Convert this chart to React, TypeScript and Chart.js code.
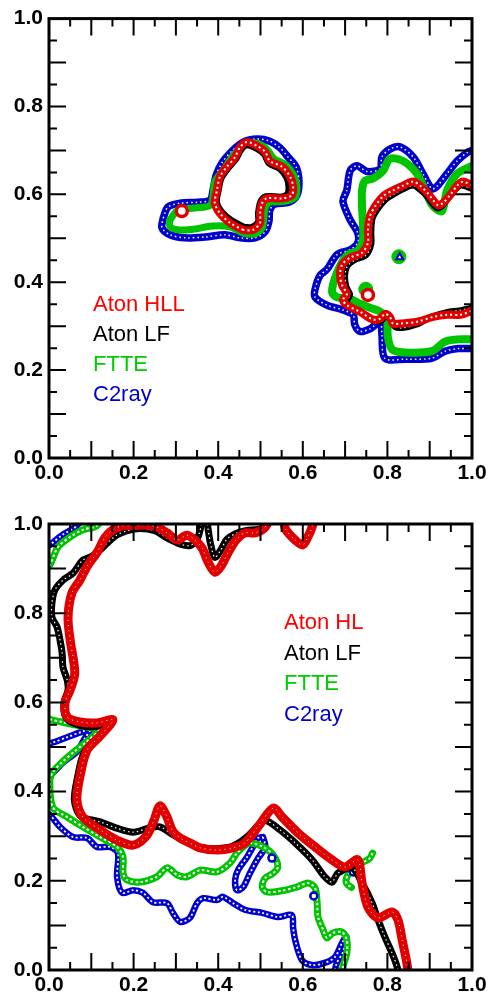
import React, { useEffect, useRef } from "react";
import { Chart, registerables } from "chart.js";
Chart.register(...registerables);

type P = [number, number];

// ---------- TOP PANEL ----------
const topRedIsland: P[] = [[0.459,0.519],[0.428,0.535],[0.404,0.557],[0.392,0.580],[0.397,0.609],[0.404,0.640],[0.421,0.663],[0.440,0.685],[0.452,0.708],[0.468,0.719],[0.492,0.710],[0.511,0.697],[0.522,0.676],[0.551,0.663],[0.570,0.640],[0.577,0.618],[0.574,0.598],[0.553,0.591],[0.515,0.591],[0.504,0.580],[0.499,0.557],[0.499,0.535],[0.482,0.519],[0.459,0.519]];
const topRedRight: P[] = [[1.0,0.620],[0.979,0.629],[0.965,0.620],[0.948,0.598],[0.931,0.580],[0.920,0.575],[0.908,0.587],[0.896,0.602],[0.877,0.620],[0.861,0.629],[0.837,0.620],[0.813,0.609],[0.790,0.596],[0.771,0.573],[0.759,0.551],[0.754,0.519],[0.754,0.490],[0.740,0.467],[0.712,0.456],[0.693,0.440],[0.688,0.416],[0.693,0.393],[0.704,0.373],[0.695,0.360],[0.704,0.348],[0.735,0.333],[0.766,0.315],[0.783,0.317],[0.794,0.328],[0.806,0.321],[0.813,0.306],[0.830,0.306],[0.870,0.310],[0.908,0.321],[0.941,0.326],[0.972,0.326],[1.0,0.335]];
const topRedDots: P[] = [[0.314,0.562],[0.754,0.371]];

const topBlackIsland: P[] = [[0.462,0.526],[0.432,0.541],[0.408,0.561],[0.397,0.582],[0.401,0.608],[0.408,0.637],[0.424,0.659],[0.443,0.681],[0.455,0.702],[0.468,0.712],[0.490,0.704],[0.508,0.691],[0.520,0.670],[0.546,0.657],[0.562,0.636],[0.566,0.617],[0.564,0.602],[0.550,0.595],[0.513,0.596],[0.500,0.584],[0.494,0.557],[0.494,0.537],[0.480,0.526],[0.462,0.526]];
const topBlackRight: P[] = [[1.0,0.612],[0.975,0.620],[0.962,0.612],[0.945,0.592],[0.930,0.574],[0.918,0.568],[0.905,0.580],[0.893,0.596],[0.875,0.612],[0.860,0.620],[0.838,0.612],[0.815,0.600],[0.795,0.587],[0.777,0.566],[0.765,0.545],[0.762,0.515],[0.762,0.487],[0.750,0.462],[0.722,0.450],[0.705,0.436],[0.700,0.415],[0.703,0.390],[0.712,0.372],[0.705,0.358],[0.710,0.346],[0.740,0.330],[0.770,0.312],[0.785,0.312],[0.796,0.322],[0.808,0.314],[0.818,0.298],[0.835,0.296],[0.870,0.304],[0.905,0.322],[0.940,0.332],[0.970,0.336],[1.0,0.342]];

const topGreenIsland: P[] = [[0.286,0.542],[0.305,0.564],[0.345,0.569],[0.381,0.575],[0.388,0.598],[0.392,0.629],[0.414,0.658],[0.435,0.688],[0.459,0.712],[0.489,0.717],[0.515,0.703],[0.532,0.681],[0.560,0.667],[0.579,0.643],[0.586,0.618],[0.582,0.593],[0.558,0.584],[0.522,0.582],[0.511,0.569],[0.508,0.546],[0.504,0.524],[0.487,0.510],[0.459,0.512],[0.428,0.526],[0.385,0.528],[0.345,0.521],[0.310,0.519],[0.286,0.526],[0.286,0.542]];
const topGreenRight: P[] = [[1.0,0.665],[0.965,0.647],[0.941,0.609],[0.929,0.562],[0.908,0.573],[0.894,0.598],[0.870,0.647],[0.837,0.676],[0.806,0.681],[0.790,0.654],[0.766,0.636],[0.747,0.631],[0.740,0.609],[0.740,0.573],[0.742,0.535],[0.742,0.497],[0.730,0.472],[0.704,0.461],[0.681,0.422],[0.669,0.378],[0.681,0.366],[0.712,0.362],[0.735,0.351],[0.759,0.342],[0.783,0.333],[0.799,0.315],[0.801,0.276],[0.811,0.247],[0.842,0.240],[0.905,0.243],[0.936,0.265],[0.967,0.270],[1.0,0.270]];
const topGreenBlobs: P[] = [[0.749,0.384],[0.827,0.458]];

const topBlueIsland: P[] = [[0.270,0.546],[0.281,0.571],[0.310,0.580],[0.352,0.582],[0.381,0.587],[0.388,0.611],[0.395,0.643],[0.409,0.672],[0.433,0.699],[0.459,0.719],[0.492,0.726],[0.522,0.721],[0.546,0.706],[0.565,0.685],[0.584,0.663],[0.591,0.629],[0.586,0.598],[0.567,0.582],[0.534,0.578],[0.522,0.564],[0.520,0.539],[0.511,0.515],[0.487,0.501],[0.452,0.501],[0.416,0.508],[0.369,0.503],[0.322,0.501],[0.286,0.508],[0.267,0.524],[0.270,0.546]];
const topBlueRight: P[] = [[1.0,0.700],[0.991,0.697],[0.965,0.676],[0.941,0.647],[0.917,0.618],[0.905,0.613],[0.884,0.647],[0.861,0.685],[0.830,0.708],[0.806,0.703],[0.787,0.685],[0.783,0.658],[0.752,0.652],[0.728,0.665],[0.712,0.654],[0.704,0.609],[0.695,0.584],[0.712,0.542],[0.730,0.512],[0.730,0.490],[0.712,0.474],[0.681,0.463],[0.657,0.429],[0.641,0.416],[0.629,0.384],[0.629,0.366],[0.657,0.348],[0.695,0.337],[0.719,0.326],[0.723,0.303],[0.735,0.288],[0.759,0.294],[0.783,0.310],[0.787,0.281],[0.794,0.227],[0.842,0.225],[0.905,0.227],[0.936,0.243],[0.967,0.249],[1.0,0.249]];
const topBlueDots: P[] = [[0.829,0.457]];

// ---------- BOTTOM PANEL ----------
const botRedMain: P[] = [[0.63,1.03],[0.622,0.993],[0.612,0.971],[0.600,0.953],[0.582,0.964],[0.560,0.987],[0.548,1.02],[0.52,1.02],[0.511,0.993],[0.487,0.980],[0.463,0.980],[0.442,0.964],[0.423,0.935],[0.407,0.906],[0.392,0.892],[0.376,0.915],[0.362,0.946],[0.345,0.964],[0.326,0.975],[0.303,0.964],[0.279,0.980],[0.255,0.993],[0.227,0.998],[0.199,0.996],[0.173,0.996],[0.151,0.987],[0.132,0.969],[0.113,0.935],[0.092,0.908],[0.073,0.874],[0.054,0.845],[0.045,0.791],[0.050,0.740],[0.061,0.666],[0.050,0.628],[0.038,0.599],[0.043,0.567],[0.073,0.556],[0.113,0.554],[0.151,0.561],[0.121,0.525],[0.090,0.493],[0.073,0.433],[0.066,0.381],[0.080,0.343],[0.121,0.314],[0.161,0.291],[0.199,0.280],[0.230,0.300],[0.248,0.335],[0.262,0.368],[0.278,0.345],[0.292,0.312],[0.310,0.296],[0.333,0.285],[0.357,0.274],[0.397,0.269],[0.435,0.274],[0.463,0.285],[0.494,0.321],[0.530,0.363],[0.551,0.343],[0.589,0.307],[0.629,0.276],[0.669,0.247],[0.700,0.231],[0.730,0.247],[0.740,0.195],[0.754,0.141],[0.778,0.117],[0.811,0.130],[0.825,0.112],[0.835,0.067],[0.846,0.016],[0.851,-0.02]];

const botBlackTop: P[] = [[0.372,1.02],[0.376,0.99],[0.382,0.955],[0.392,0.925],[0.405,0.94],[0.42,0.965],[0.44,0.978],[0.465,0.985],[0.495,0.988],[0.515,0.995],[0.525,1.02]];
const botBlackMain: P[] = [[0.365,1.02],[0.352,0.97],[0.335,0.952],[0.31,0.955],[0.28,0.968],[0.25,0.985],[0.215,0.99],[0.185,0.985],[0.16,0.975],[0.135,0.955],[0.121,0.942],[0.100,0.927],[0.080,0.919],[0.057,0.890],[0.033,0.874],[0.014,0.852],[0.007,0.823],[0.007,0.791],[0.019,0.769],[0.026,0.740],[0.031,0.711],[0.033,0.679],[0.043,0.650],[0.045,0.628],[0.035,0.597],[0.042,0.563],[0.075,0.548],[0.112,0.546],[0.145,0.553],[0.115,0.52],[0.083,0.488],[0.067,0.43],[0.060,0.38],[0.075,0.345],[0.121,0.332],[0.16,0.318],[0.199,0.309],[0.235,0.318],[0.262,0.321],[0.29,0.305],[0.32,0.29],[0.357,0.275],[0.397,0.272],[0.435,0.278],[0.47,0.3],[0.495,0.325],[0.511,0.336],[0.545,0.315],[0.582,0.285],[0.622,0.247],[0.652,0.209],[0.669,0.197],[0.683,0.217],[0.716,0.229],[0.740,0.195],[0.764,0.150],[0.778,0.112],[0.794,0.074],[0.811,0.038],[0.823,0.007],[0.828,-0.02]];

const botGreenCorner: P[] = [[-0.01,0.9],[0.002,0.908],[0.021,0.948],[0.050,0.971],[0.080,0.987],[0.113,0.996],[0.13,1.02]];
const botGreenMain: P[] = [[-0.01,0.565],[0.03,0.556],[0.07,0.548],[0.10,0.543],[0.118,0.538],[0.09,0.513],[0.06,0.49],[0.03,0.465],[0.01,0.445],[0.002,0.426],[0.009,0.365],[0.043,0.343],[0.080,0.321],[0.121,0.298],[0.161,0.276],[0.175,0.253],[0.175,0.217],[0.184,0.202],[0.215,0.197],[0.255,0.209],[0.279,0.229],[0.303,0.213],[0.326,0.209],[0.357,0.224],[0.397,0.220],[0.428,0.240],[0.444,0.262],[0.459,0.276],[0.475,0.285],[0.506,0.276],[0.530,0.258],[0.541,0.231],[0.530,0.217],[0.511,0.206],[0.504,0.186],[0.515,0.175],[0.546,0.177],[0.586,0.186],[0.612,0.195],[0.629,0.184],[0.634,0.150],[0.636,0.119],[0.648,0.090],[0.657,0.072],[0.671,0.083],[0.693,0.085],[0.704,0.067],[0.704,0.038],[0.695,0.007],[0.69,-0.02]];
const botGreenHook: P[] = [[0.765,0.262],[0.758,0.25],[0.745,0.243],[0.732,0.235],[0.718,0.225],[0.705,0.21],[0.703,0.195],[0.715,0.185]];

const botBlueCorner: P[] = [[-0.01,0.945],[0.002,0.953],[0.031,0.975],[0.066,0.996],[0.08,1.02]];
const botBlueLeft: P[] = [[-0.01,0.505],[0.009,0.51],[0.043,0.522],[0.08,0.535],[0.098,0.54],[0.085,0.52],[0.066,0.49],[0.033,0.465],[0.009,0.442],[-0.01,0.43]];
const botBlueMain: P[] = [[-0.01,0.352],[0.002,0.348],[0.026,0.321],[0.057,0.298],[0.090,0.296],[0.113,0.276],[0.144,0.276],[0.163,0.262],[0.161,0.209],[0.173,0.173],[0.199,0.179],[0.222,0.173],[0.246,0.152],[0.279,0.150],[0.293,0.128],[0.310,0.108],[0.333,0.117],[0.350,0.150],[0.364,0.161],[0.397,0.157],[0.411,0.164],[0.435,0.150],[0.463,0.135],[0.504,0.128],[0.541,0.119],[0.574,0.123],[0.577,0.096],[0.582,0.067],[0.598,0.022],[0.622,0.011],[0.652,0.016],[0.676,0.029],[0.693,0.061],[0.703,0.075],[0.695,0.04],[0.68,0.015],[0.672,-0.02]];
const botBlueLoop: P[] = [[0.506,0.298],[0.511,0.276],[0.492,0.247],[0.475,0.217],[0.459,0.186],[0.444,0.179],[0.440,0.202],[0.447,0.224],[0.468,0.253],[0.482,0.276],[0.494,0.296],[0.506,0.298]];
const botBlueDots: P[] = [[0.527,0.251],[0.626,0.166],[0.719,0.22]];

// ---------- AXES / LEGEND ----------
const labelTicks = [0, 0.2, 0.4, 0.6, 0.8, 1.0];
const longTicks = [0.1, 0.2, 0.3, 0.4, 0.5, 0.6, 0.7, 0.8, 0.9];
const shortTicks = [0.05, 0.15, 0.25, 0.35, 0.45, 0.55, 0.65, 0.75, 0.85, 0.95];
const topLegend = ["Aton HLL", "Aton LF", "FTTE", "C2ray"];
const bottomLegend = ["Aton HL", "Aton LF", "FTTE", "C2ray"];

const RED = "#e00000";
const BLACK = "#000000";
const GREEN = "#00c400";
const BLUE = "#0000cc";
const legendColors = ["#ff0000", "#000000", "#00cc00", "#0000cc"];
const FONT = '"Liberation Sans", Arial, Helvetica, sans-serif';

const pts = (a: P[]) => a.map(([x, y]) => ({ x, y }));

function band(a: P[], color: string, width: number, dash: number[] | null, dashWidth = 1.5): any[] {
  const out: any[] = [];
  if (dash) {
    out.push({
      data: pts(a), showLine: true, borderColor: "#ffffff", borderWidth: dashWidth,
      borderDash: dash, pointRadius: 0, tension: 0.3, fill: false,
    });
  }
  out.push({
    data: pts(a), showLine: true, borderColor: color, borderWidth: width,
    pointRadius: 0, tension: 0.3, fill: false, borderJoinStyle: "round", borderCapStyle: "round",
  });
  return out;
}

function dots(a: P[], color: string, radius: number, style: string, bw: number, fillColor: string): any {
  return {
    data: pts(a), showLine: false, pointStyle: style, pointRadius: radius,
    pointBorderColor: color, pointBackgroundColor: fillColor, pointBorderWidth: bw,
  };
}

const topDatasets = [
  dots(topRedDots, RED, 5.5, "circle", 3.5, "#ffffff"),
  ...band(topRedIsland, RED, 8, [2, 3], 2),
  ...band(topRedRight, RED, 8, [2, 3], 2),
  ...band(topBlackIsland, BLACK, 6, null),
  ...band(topBlackRight, BLACK, 6, [1.5, 3], 1.2),
  dots(topBlueDots, BLUE, 4, "triangle", 2, "#ffffff"),
  dots(topGreenBlobs, GREEN, 7, "circle", 1, GREEN),
  ...band(topGreenIsland, GREEN, 7, null),
  ...band(topGreenRight, GREEN, 8, null),
  ...band(topBlueIsland, BLUE, 7.5, [1.5, 3], 1.5),
  ...band(topBlueRight, BLUE, 7.5, [1.5, 3], 1.5),
];

const bottomDatasets = [
  ...band(botRedMain, RED, 9, [1, 4], 1),
  ...band(botBlackTop, BLACK, 7, [1.5, 3], 1.2),
  ...band(botBlackMain, BLACK, 7, [1.5, 3], 1.2),
  dots(botBlueDots, BLUE, 3.5, "circle", 2.5, "#ffffff"),
  ...band(botGreenCorner, GREEN, 7, [2.5, 2.5], 2),
  ...band(botGreenMain, GREEN, 7, [2.5, 2.5], 2),
  ...band(botGreenHook, GREEN, 7, [2.5, 2.5], 2),
  ...band(botBlueCorner, BLUE, 6.5, [2, 2.5], 1.8),
  ...band(botBlueLeft, BLUE, 6.5, [2, 2.5], 1.8),
  ...band(botBlueMain, BLUE, 6.5, [2, 2.5], 1.8),
  ...band(botBlueLoop, BLUE, 6.5, [2, 2.5], 1.8),
];

const framePlugin = {
  id: "frameTicks",
  afterDatasetsDraw(chart: any) {
    const { ctx, chartArea, scales } = chart;
    const { left, right, top, bottom } = chartArea;
    const xs = scales.x, ys = scales.y;
    ctx.save();
    ctx.strokeStyle = "#000";
    ctx.lineWidth = 2;
    const draw = (vals: number[], len: number) => {
      for (const v of vals) {
        const px = xs.getPixelForValue(v);
        const py = ys.getPixelForValue(v);
        ctx.beginPath();
        ctx.moveTo(px, bottom); ctx.lineTo(px, bottom - len);
        ctx.moveTo(px, top); ctx.lineTo(px, top + len);
        ctx.moveTo(left, py); ctx.lineTo(left + len, py);
        ctx.moveTo(right, py); ctx.lineTo(right - len, py);
        ctx.stroke();
      }
    };
    draw(longTicks, 17);
    draw(shortTicks, 8);
    ctx.lineWidth = 3;
    ctx.strokeRect(left, top, right - left, bottom - top);
    ctx.restore();
  },
};

function makeOptions(padTop: number, padBottom: number): any {
  const tickFont = { family: FONT, size: 21, weight: "bold" as const };
  return {
    animation: false,
    responsive: false,
    devicePixelRatio: 1,
    layout: { padding: { left: 0, right: 18, top: padTop, bottom: padBottom } },
    plugins: { legend: { display: false }, tooltip: { enabled: false } },
    scales: {
      x: {
        type: "linear", min: 0, max: 1, position: "bottom",
        grid: { display: false, drawTicks: false }, border: { display: false },
        afterBuildTicks: (s: any) => { s.ticks = labelTicks.map((v) => ({ value: v })); },
        ticks: { font: tickFont, color: "#000", padding: 3, maxRotation: 0, autoSkip: false,
          callback: (v: any) => Number(v).toFixed(1) },
        afterFit: (s: any) => { s.height = 30; },
      },
      y: {
        type: "linear", min: 0, max: 1, position: "left",
        grid: { display: false, drawTicks: false }, border: { display: false },
        afterBuildTicks: (s: any) => { s.ticks = labelTicks.map((v) => ({ value: v })); },
        ticks: { font: tickFont, color: "#000", padding: 6, autoSkip: false,
          callback: (v: any) => Number(v).toFixed(1) },
        afterFit: (s: any) => { s.width = 49; },
      },
    },
  };
}

function Panel({ datasets, top, padTop, padBottom }: { datasets: any[]; top: number; padTop: number; padBottom: number }) {
  const ref = useRef<HTMLCanvasElement>(null);
  useEffect(() => {
    const chart = new Chart(ref.current as HTMLCanvasElement, {
      type: "scatter",
      data: { datasets },
      options: makeOptions(padTop, padBottom),
      plugins: [framePlugin],
    } as any);
    return () => chart.destroy();
  }, []);
  return (
    <canvas ref={ref} width={490} height={500}
      style={{ position: "absolute", left: 0, top, width: 490, height: 500 }} />
  );
}

function Legend({ labels, left, top, lineHeight }: { labels: string[]; left: number; top: number; lineHeight: number }) {
  return (
    <div style={{ position: "absolute", left, top, fontFamily: FONT, fontSize: 22, lineHeight: `${lineHeight}px`, whiteSpace: "nowrap" }}>
      {labels.map((t, i) => (
        <div key={t + i} style={{ color: legendColors[i] }}>{t}</div>
      ))}
    </div>
  );
}

export default function App() {
  return (
    <div style={{ position: "absolute", left: 0, top: 0, width: 490, height: 1000, background: "#fff", overflow: "hidden" }}>
      <Panel datasets={topDatasets} top={0} padTop={13} padBottom={12} />
      <Panel datasets={bottomDatasets} top={500} padTop={24} padBottom={0} />
      <Legend labels={topLegend} left={93} top={289} lineHeight={30} />
      <Legend labels={bottomLegend} left={284} top={607} lineHeight={30.5} />
    </div>
  );
}
